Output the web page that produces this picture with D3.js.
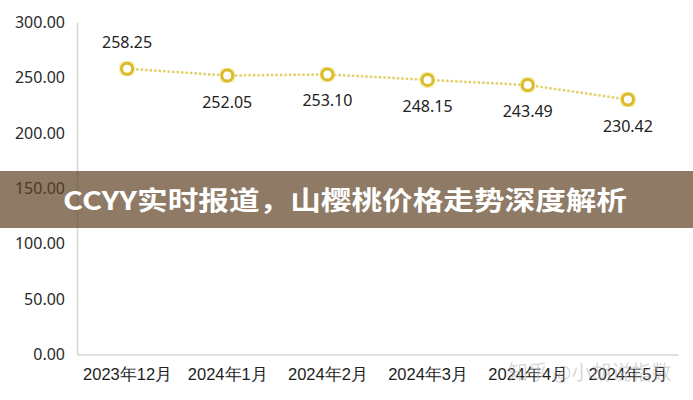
<!DOCTYPE html>
<html>
<head>
<meta charset="utf-8">
<script src="https://cdn.jsdelivr.net/npm/d3@7/dist/d3.min.js"></script>
<style>
  body { margin: 0; background: #fff; }
  svg { display: block; font-family: "Noto Sans CJK SC", "Noto Sans", sans-serif; }
</style>
</head>
<body>
<div id="container"></div>
<script>
const months = ["2023年12月", "2024年1月", "2024年2月", "2024年3月", "2024年4月", "2024年5月"];
const prices = [258.25, 252.05, 253.10, 248.15, 243.49, 230.42];
const labelAbove = [true, false, false, false, false, false];
const yTicks = [0, 50, 100, 150, 200, 250, 300];
const title = "CCYY实时报道，山樱桃价格走势深度解析";
const watermark = "知乎 @小胡说指数";

const width = 693;
const height = 400;
const marginTop = 22.5;
const marginRight = 15;
const marginBottom = 45.5;
const marginLeft = 77;

const data = months.map((m, i) => ({ month: m, price: prices[i], above: labelAbove[i] }));

const x = d3
  .scalePoint()
  .domain(months)
  .range([marginLeft, width - marginRight])
  .padding(0.5);

const y = d3
  .scaleLinear()
  .domain([0, 300])
  .range([height - marginBottom, marginTop]);

const svg = d3.create("svg").attr("width", width).attr("height", height);

svg.append("rect").attr("width", width).attr("height", height).attr("fill", "#fff");

// y axis
const yAxis = svg
  .append("g")
  .attr("transform", `translate(${marginLeft},0)`)
  .call(d3.axisLeft(y).tickValues(yTicks).tickFormat(d3.format(".2f")).tickSize(0).tickPadding(12));
yAxis.select(".domain").attr("stroke", "#d6d6d6").attr("stroke-width", 1.5);
yAxis.selectAll("text").attr("font-size", 16).attr("fill", "#2a2a2a").attr("font-family", "'Noto Sans', sans-serif");

// x axis
const xAxis = svg
  .append("g")
  .attr("transform", `translate(0,${height - marginBottom})`)
  .call(d3.axisBottom(x).tickSize(0).tickPadding(14));
xAxis.select(".domain").attr("stroke", "#d6d6d6").attr("stroke-width", 1.5);
xAxis.selectAll("text").attr("font-size", 16.5).attr("fill", "#1e1e1e");

// glow
const defs = svg.append("defs");
defs.append("filter").attr("id", "glow")
  .append("feGaussianBlur").attr("stdDeviation", 1.2);

const line = d3.line().x((d) => x(d.month)).y((d) => y(d.price));

svg.append("path")
  .datum(data)
  .attr("d", line)
  .attr("fill", "none")
  .attr("stroke", "#e2d066")
  .attr("stroke-width", 2.5)
  .attr("stroke-dasharray", "2.5,2");

svg.selectAll("circle.halo")
  .data(data)
  .enter()
  .append("circle")
  .attr("class", "halo")
  .attr("cx", (d) => x(d.month))
  .attr("cy", (d) => y(d.price))
  .attr("r", 6)
  .attr("fill", "none")
  .attr("stroke", "#f0df80")
  .attr("stroke-width", 4)
  .attr("filter", "url(#glow)");

svg.selectAll("circle.dot")
  .data(data)
  .enter()
  .append("circle")
  .attr("class", "dot")
  .attr("cx", (d) => x(d.month))
  .attr("cy", (d) => y(d.price))
  .attr("r", 5.5)
  .attr("fill", "#fff")
  .attr("stroke", "#d8bc2c")
  .attr("stroke-width", 3);

svg.selectAll("text.val")
  .data(data)
  .enter()
  .append("text")
  .attr("class", "val")
  .attr("x", (d) => x(d.month))
  .attr("y", (d) => y(d.price) + (d.above ? -21 : 32))
  .attr("text-anchor", "middle")
  .attr("font-size", 16)
  .attr("font-family", "'Noto Sans', sans-serif")
  .attr("fill", "#222")
  .text((d) => d.price.toFixed(2));

// watermark
svg.append("text")
  .attr("x", 508)
  .attr("y", 380)
  .attr("font-size", 20)
  .attr("fill", "#aaa")
  .attr("opacity", 0.45)
  .text(watermark);

// banner
svg.append("rect")
  .attr("x", 0)
  .attr("y", 171)
  .attr("width", width)
  .attr("height", 57)
  .attr("fill", "rgb(94,66,36)")
  .attr("opacity", 0.7);

svg.append("text")
  .attr("x", 63)
  .attr("y", 210)
  .attr("font-size", 26)
  .attr("font-weight", "bold")
  .attr("fill", "#fff")
  .attr("textLength", 564)
  .attr("lengthAdjust", "spacingAndGlyphs")
  .text(title);

d3.select("#container").append(() => svg.node());
</script>
</body>
</html>
